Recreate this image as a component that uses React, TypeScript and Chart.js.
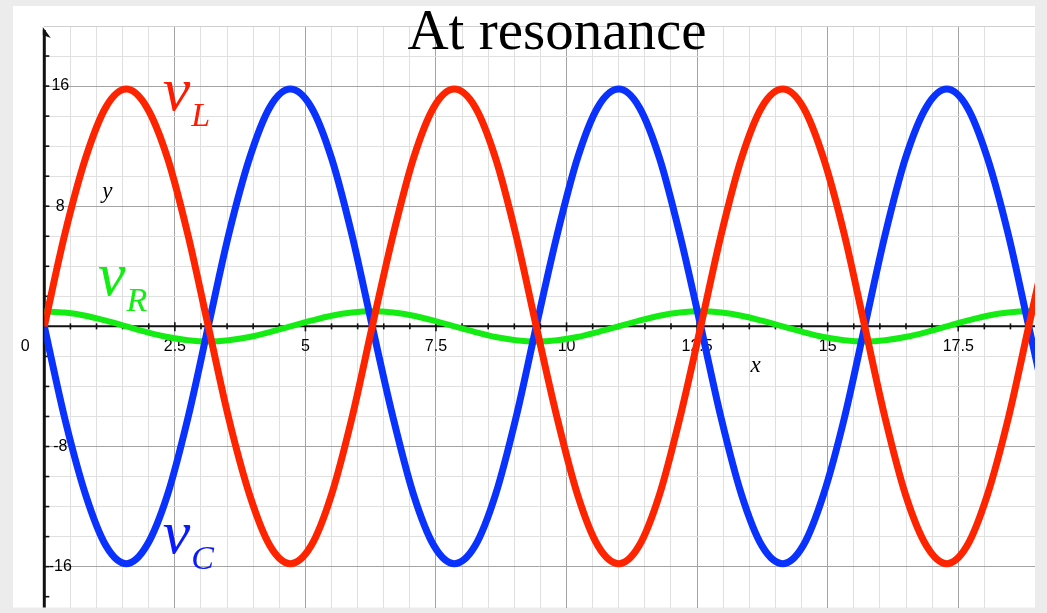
import React, { useEffect, useRef } from "react";
import { Chart, registerables } from "chart.js";

Chart.register(...registerables);

// Sample times along the horizontal axis
const tSamples = [
  0.0, 0.39, 0.79, 1.18, 1.57, 1.96, 2.36, 2.75, 3.14, 3.53, 3.93, 4.32, 4.71, 5.11, 5.5, 5.89,
  6.28, 6.68, 7.07, 7.46, 7.85, 8.25, 8.64, 9.03, 9.42, 9.82, 10.21, 10.6, 11.0, 11.39, 11.78, 12.17,
  12.57, 12.96, 13.35, 13.74, 14.14, 14.53, 14.92, 15.32, 15.71, 16.1, 16.49, 16.89, 17.28, 17.67, 18.06, 18.46,
  18.85, 19.24,
];

// Inductor voltage
const vL = [
  0, 6.1, 11.2, 14.6, 15.8, 14.6, 11.2, 6.1, 0, -6.1, -11.2, -14.6, -15.8, -14.6, -11.2, -6.1,
  0, 6.1, 11.2, 14.6, 15.8, 14.6, 11.2, 6.1, 0, -6.1, -11.2, -14.6, -15.8, -14.6, -11.2, -6.1,
  0, 6.1, 11.2, 14.6, 15.8, 14.6, 11.2, 6.1, 0, -6.1, -11.2, -14.6, -15.8, -14.6, -11.2, -6.1,
  0, 6.1,
];

// Capacitor voltage
const vC = [
  0, -6.1, -11.2, -14.6, -15.8, -14.6, -11.2, -6.1, 0, 6.1, 11.2, 14.6, 15.8, 14.6, 11.2, 6.1,
  0, -6.1, -11.2, -14.6, -15.8, -14.6, -11.2, -6.1, 0, 6.1, 11.2, 14.6, 15.8, 14.6, 11.2, 6.1,
  0, -6.1, -11.2, -14.6, -15.8, -14.6, -11.2, -6.1, 0, 6.1, 11.2, 14.6, 15.8, 14.6, 11.2, 6.1,
  0, -6.1,
];

// Resistor voltage
const vR = [
  1, 0.92, 0.71, 0.38, 0, -0.38, -0.71, -0.92, -1, -0.92, -0.71, -0.38, 0, 0.38, 0.71, 0.92,
  1, 0.92, 0.71, 0.38, 0, -0.38, -0.71, -0.92, -1, -0.92, -0.71, -0.38, 0, 0.38, 0.71, 0.92,
  1, 0.92, 0.71, 0.38, 0, -0.38, -0.71, -0.92, -1, -0.92, -0.71, -0.38, 0, 0.38, 0.71, 0.92,
  1, 0.92,
];

const xTickValues = [2.5, 5, 7.5, 10, 12.5, 15, 17.5];
const xTickLabels = ["2.5", "5", "7.5", "10", "12.5", "15", "17.5"];
const yTickValues = [16, 8, -8, -16];
const yTickLabels = ["16", "8", "-8", "-16"];

const X_MIN = 0;
const X_MAX = 18.97;
const Y_MIN = -18.72;
const Y_MAX = 20;

const RED = "#ff2400";
const BLUE = "#0a32ff";
const GREEN = "#14ec14";

const TICK_FONT = '16px "Liberation Sans", Arial, sans-serif';

const near = (a: number, b: number) => Math.abs(a - b) < 1e-6;

const framePlugin = {
  id: "frame",
  beforeDraw(chart: any) {
    const { ctx, width, height } = chart;
    ctx.save();
    ctx.fillStyle = "#ececec";
    ctx.fillRect(0, 0, width, height);
    ctx.fillStyle = "#ffffff";
    ctx.fillRect(13, 6, chart.chartArea.right - 13, chart.chartArea.bottom - 6);
    ctx.restore();
  },
};

const axesPlugin = {
  id: "axesCross",
  beforeDatasetsDraw(chart: any) {
    const { ctx, chartArea } = chart;
    const xs = chart.scales.x;
    const ys = chart.scales.y;
    const x0 = xs.getPixelForValue(0);
    const y0 = ys.getPixelForValue(0);
    ctx.save();
    ctx.strokeStyle = "#111";
    ctx.fillStyle = "#111";

    // horizontal axis
    ctx.lineWidth = 2;
    ctx.beginPath();
    ctx.moveTo(x0, y0);
    ctx.lineTo(chartArea.right, y0);
    ctx.stroke();

    // vertical axis with arrow head
    ctx.lineWidth = 3;
    ctx.beginPath();
    ctx.moveTo(x0, chartArea.top + 4);
    ctx.lineTo(x0, chartArea.bottom);
    ctx.stroke();
    ctx.beginPath();
    ctx.moveTo(x0 - 1.5, chartArea.top + 1);
    ctx.lineTo(x0 + 6.5, chartArea.top + 12);
    ctx.lineTo(x0 - 1.5, chartArea.top + 9);
    ctx.closePath();
    ctx.fill();

    // tick marks on horizontal axis
    ctx.lineWidth = 1.6;
    for (let v = 0.5; v < X_MAX; v += 0.5) {
      const px = xs.getPixelForValue(v);
      const major = near(v % 2.5, 0) || near(v % 2.5, 2.5);
      ctx.beginPath();
      ctx.moveTo(px, y0 - (major ? 4 : 3));
      ctx.lineTo(px, y0 + (major ? 5 : 3));
      ctx.stroke();
    }
    // tick marks on vertical axis
    for (let v = -18; v <= 18; v += 2) {
      if (v === 0) continue;
      const py = ys.getPixelForValue(v);
      ctx.beginPath();
      ctx.moveTo(x0, py);
      ctx.lineTo(x0 + 5, py);
      ctx.stroke();
    }

    // tick labels
    ctx.font = TICK_FONT;
    ctx.fillStyle = "#000";
    ctx.textAlign = "center";
    ctx.textBaseline = "middle";
    xTickValues.forEach((v, i) => {
      ctx.fillText(xTickLabels[i], xs.getPixelForValue(v), y0 + 20);
    });
    yTickValues.forEach((v, i) => {
      ctx.fillText(yTickLabels[i], x0 + 16, ys.getPixelForValue(v));
    });
    ctx.fillText("0", x0 - 19, y0 + 20);

    // axis letters
    ctx.font = 'italic 23px "Liberation Serif", "Times New Roman", serif';
    ctx.textAlign = "left";
    ctx.textBaseline = "alphabetic";
    ctx.fillText("y", xs.getPixelForValue(1.11), ys.getPixelForValue(8.55));
    ctx.fillText("x", xs.getPixelForValue(13.52), ys.getPixelForValue(-3.04));
    ctx.restore();
  },
};

// Curve names: [main letter, subscript, x, y, colour]
const curveNames: [string, string, number, number, string][] = [
  ["v", "L", 2.27, 14.4, "#ff1a00"],
  ["v", "R", 1.03, 2.09, "#11ee11"],
  ["v", "C", 2.27, -15.1, "#0a1aff"],
];

const labelsPlugin = {
  id: "curveNames",
  afterDatasetsDraw(chart: any) {
    const { ctx } = chart;
    const xs = chart.scales.x;
    const ys = chart.scales.y;
    ctx.save();
    ctx.textAlign = "left";
    ctx.textBaseline = "alphabetic";
    curveNames.forEach(([main, sub, x, y, color]) => {
      const px = xs.getPixelForValue(x);
      const py = ys.getPixelForValue(y);
      ctx.fillStyle = color;
      ctx.font = 'italic 62px "Liberation Serif", "Times New Roman", serif';
      ctx.fillText(main, px, py);
      const w = ctx.measureText(main).width;
      ctx.font = 'italic 34px "Liberation Serif", "Times New Roman", serif';
      ctx.fillText(sub, px + w + 1, py + 16);
    });

    // title
    ctx.fillStyle = "#000";
    ctx.textAlign = "center";
    ctx.font = '57px "Liberation Serif", "Times New Roman", serif';
    ctx.fillText("At resonance", 557, 49);
    ctx.restore();
  },
};

export default function App() {
  const canvasRef = useRef<HTMLCanvasElement | null>(null);

  useEffect(() => {
    if (!canvasRef.current) return;
    const toPoints = (ys: number[]) => tSamples.map((t, i) => ({ x: t, y: ys[i] }));
    const common = {
      pointRadius: 0,
      cubicInterpolationMode: "monotone" as const,
      fill: false,
    };
    const chart = new Chart(canvasRef.current, {
      type: "line",
      data: {
        datasets: [
          { label: "vL", data: toPoints(vL), borderColor: RED, borderWidth: 7, order: 1, ...common },
          { label: "vC", data: toPoints(vC), borderColor: BLUE, borderWidth: 7, order: 2, ...common },
          { label: "vR", data: toPoints(vR), borderColor: GREEN, borderWidth: 6, order: 3, ...common },
        ],
      },
      options: {
        responsive: false,
        maintainAspectRatio: false,
        animation: false,
        events: [],
        layout: { padding: { left: 44.3, right: 12, top: 26, bottom: 5.5 } },
        plugins: {
          legend: { display: false },
          tooltip: { enabled: false },
          title: { display: false },
        },
        scales: {
          x: {
            type: "linear",
            min: X_MIN,
            max: X_MAX,
            ticks: { display: false, stepSize: 0.5 },
            border: { display: false },
            grid: {
              drawTicks: false,
              lineWidth: 1,
              color: (c: any) => {
                const v = c.tick.value;
                if (near(v, 0) || near(v, X_MAX)) return "rgba(0,0,0,0)";
                const r = v % 2.5;
                if (near(r, 0) || near(r, 2.5)) return "#a3a3a3";
                return "#e0e0e0";
              },
            },
          },
          y: {
            type: "linear",
            min: Y_MIN,
            max: Y_MAX,
            ticks: { display: false, stepSize: 2 },
            border: { display: false },
            grid: {
              drawTicks: false,
              lineWidth: 1,
              color: (c: any) => {
                const v = c.tick.value;
                if (near(v, 0) || !near(v % 2, 0)) return "rgba(0,0,0,0)";
                if (near(v, Y_MAX)) return "#cfcfcf";
                if (near(v % 8, 0)) return "#a3a3a3";
                return "#e0e0e0";
              },
            },
          },
        },
      },
      plugins: [framePlugin, axesPlugin, labelsPlugin],
    });
    return () => chart.destroy();
  }, []);

  return (
    <div style={{ position: "fixed", left: 0, top: 0, width: 1047, height: 613 }}>
      <canvas ref={canvasRef} width={1047} height={613} style={{ display: "block" }} />
    </div>
  );
}
